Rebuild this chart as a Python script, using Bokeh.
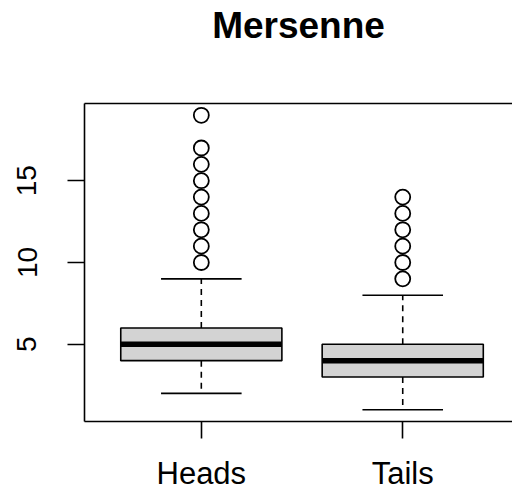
from bokeh.plotting import figure
from bokeh.models import Range1d, FixedTicker, LinearAxis, ColumnDataSource
from bokeh.embed import file_html
from bokeh.resources import INLINE

# Five-number summaries per group
groups = ["Heads", "Tails"]
positions = [1, 2]
whisker_low = [2, 1]
q1 = [4, 3]
median = [5, 4]
q3 = [6, 5]
whisker_high = [9, 8]

# Outlying values above the upper whisker
heads_outliers = [10, 11, 12, 13, 14, 15, 16, 17, 19]
tails_outliers = [9, 10, 11, 12, 13, 14]

y_ticks = [5, 10, 15]
title_text = "Mersenne"

FONT = "Liberation Sans"
LW = 1.6
BOX_HALF = 0.4
STAPLE_HALF = 0.2

p = figure(
    width=512, height=493,
    output_backend="svg", toolbar_location=None,
    x_range=Range1d(0.42, 2.545), y_range=Range1d(0.28, 19.72),
    min_border_left=84, min_border_right=0,
    min_border_top=103, min_border_bottom=71,
)
p.background_fill_color = "white"
p.border_fill_color = "white"
p.outline_line_color = None
p.grid.visible = False

# y axis
ya = p.yaxis[0]
ya.ticker = FixedTicker(ticks=y_ticks)
ya.major_label_orientation = "vertical"
ya.major_label_text_font = FONT
ya.major_label_text_font_size = "28px"
ya.major_label_text_color = "black"
ya.major_tick_out = 17
ya.major_tick_in = 0
ya.minor_tick_line_color = None
ya.major_label_standoff = 31
ya.axis_line_width = LW
ya.major_tick_line_width = LW
ya.axis_line_color = "black"
ya.major_tick_line_color = "black"

# x axis
xa = p.xaxis[0]
xa.ticker = FixedTicker(ticks=positions)
xa.major_label_overrides = {pos: name for pos, name in zip(positions, groups)}
xa.major_label_text_font = FONT
xa.major_label_text_font_size = "31px"
xa.major_label_text_color = "black"
xa.major_tick_out = 17
xa.major_tick_in = 0
xa.minor_tick_line_color = None
xa.major_label_standoff = 17
xa.axis_line_width = LW
xa.major_tick_line_width = LW
xa.axis_line_color = "black"
xa.major_tick_line_color = "black"

# top edge of the plotting box, carrying the main title as its label
top = LinearAxis(ticker=FixedTicker(ticks=[]), axis_label=title_text)
top.major_tick_line_color = None
top.minor_tick_line_color = None
top.major_label_text_font_size = "0px"
top.axis_line_width = LW
top.axis_line_color = "black"
top.axis_label_text_font = FONT
top.axis_label_text_font_size = "37px"
top.axis_label_text_font_style = "bold"
top.axis_label_text_color = "black"
top.axis_label_standoff = 58
p.add_layout(top, "above")

src = ColumnDataSource(dict(
    x=positions, lo=whisker_low, q1=q1, med=median, q3=q3, hi=whisker_high,
    left=[x - BOX_HALF for x in positions], right=[x + BOX_HALF for x in positions],
    sl=[x - STAPLE_HALF for x in positions], sr=[x + STAPLE_HALF for x in positions],
))

# dashed whiskers
p.segment(x0="x", y0="q3", x1="x", y1="hi", source=src,
          line_color="black", line_width=LW, line_dash="6 5")
p.segment(x0="x", y0="q1", x1="x", y1="lo", source=src,
          line_color="black", line_width=LW, line_dash="6 5")

# boxes
p.quad(left="left", right="right", bottom="q1", top="q3", source=src,
       fill_color="#D3D3D3", line_color="black", line_width=LW)

# medians
p.segment(x0="left", y0="med", x1="right", y1="med", source=src,
          line_color="black", line_width=5.5, line_cap="butt")

# staples
p.segment(x0="sl", y0="hi", x1="sr", y1="hi", source=src,
          line_color="black", line_width=LW)
p.segment(x0="sl", y0="lo", x1="sr", y1="lo", source=src,
          line_color="black", line_width=LW)

# outliers
out_x = [positions[0]] * len(heads_outliers) + [positions[1]] * len(tails_outliers)
out_y = heads_outliers + tails_outliers
p.scatter(out_x, out_y, marker="circle", size=15, fill_color=None,
          line_color="black", line_width=1.8)

open("out.html", "w").write(file_html(p, INLINE))
